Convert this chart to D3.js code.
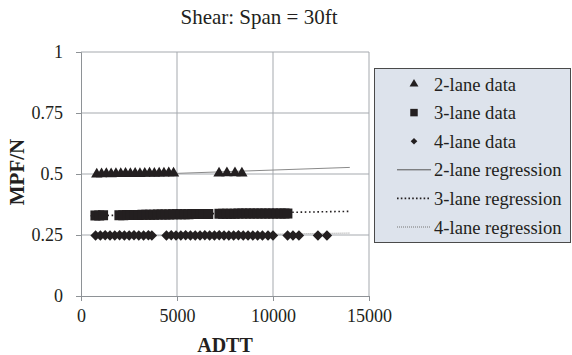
<!DOCTYPE html>
<html>
<head>
<meta charset="utf-8">
<script src="https://cdn.jsdelivr.net/npm/d3@7"></script>
<style>
  body { margin: 0; background: #fff; }
  svg { display: block; }
  svg text { font-family: "Liberation Serif", "Times New Roman", serif; fill: #231f20; }
</style>
</head>
<body>
<div id="chart"></div>
<script>
// --- data ---
const twoLaneX = [820, 1070, 1320, 1570, 1820, 2070, 2320, 2570, 2820, 3070, 3320, 3570, 3820, 4070, 4320, 4570, 4820, 7190, 7600, 8020, 8380];
const twoLaneY = [0.499, 0.500, 0.501, 0.500, 0.501, 0.501, 0.502, 0.501, 0.502, 0.501, 0.502, 0.503, 0.502, 0.503, 0.503, 0.504, 0.503, 0.503, 0.504, 0.504, 0.503];

const threeLaneX = [750, 950, 1150, 2000, 2200, 2400, 2600, 2800, 3000, 3200, 3400, 3600, 3800, 4000, 4200, 4400, 4600, 4800, 5000, 5200, 5400, 5600, 5800, 6000, 6200, 6400, 6630, 7210, 7400, 7600, 7800, 8000, 8200, 8400, 8600, 8800, 9000, 9200, 9400, 9600, 9800, 10000, 10200, 10400, 10600, 10750];
const threeLaneY = [0.330, 0.330, 0.331, 0.331, 0.331, 0.332, 0.332, 0.332, 0.332, 0.333, 0.333, 0.333, 0.333, 0.334, 0.334, 0.334, 0.334, 0.335, 0.335, 0.335, 0.335, 0.335, 0.336, 0.336, 0.336, 0.336, 0.336, 0.337, 0.337, 0.337, 0.337, 0.337, 0.338, 0.338, 0.338, 0.338, 0.338, 0.338, 0.338, 0.338, 0.338, 0.338, 0.338, 0.338, 0.338, 0.338];

const fourLaneX = [760, 1010, 1260, 1510, 1760, 2010, 2260, 2510, 2760, 3010, 3260, 3510, 3690, 4450, 4700, 4950, 5200, 5450, 5700, 5950, 6200, 6450, 6700, 6950, 7200, 7450, 7700, 7950, 8200, 8450, 8700, 8950, 9200, 9450, 9740, 10000, 10760, 11040, 11350, 12340, 12810];
const fourLaneY = [0.248, 0.248, 0.249, 0.248, 0.248, 0.249, 0.248, 0.248, 0.249, 0.248, 0.248, 0.249, 0.248, 0.248, 0.249, 0.248, 0.248, 0.249, 0.248, 0.248, 0.248, 0.249, 0.248, 0.248, 0.249, 0.248, 0.248, 0.248, 0.249, 0.248, 0.248, 0.248, 0.248, 0.248, 0.248, 0.248, 0.248, 0.248, 0.248, 0.248, 0.248];

// regression end points [ADTT, MPF/N]
const twoLaneReg = [[700, 0.491], [14000, 0.527]];
const threeLaneReg = [[500, 0.329], [14000, 0.347]];
const fourLaneReg = [[700, 0.243], [14000, 0.258]];

const xTicks = [0, 5000, 10000, 15000];
const yTicks = [0, 0.25, 0.5, 0.75, 1];
const yTickLabels = ["0", "0.25", "0.5", "0.75", "1"];
const legendLabels = ["2-lane data", "3-lane data", "4-lane data", "2-lane regression", "3-lane regression", "4-lane regression"];

const W = 572, H = 355;
const ink = "#231f20";
const gridColor = "#a5a9ae";
const svg = d3.select("#chart").append("svg").attr("width", W).attr("height", H);

const x = d3.scaleLinear().domain([0, 15000]).range([81, 369]);
const y = d3.scaleLinear().domain([0, 1]).range([296, 52]);

// gridlines
svg.append("g").selectAll("line").data(yTicks.slice(1)).join("line")
  .attr("x1", x(0)).attr("x2", x(15000))
  .attr("y1", d => y(d)).attr("y2", d => y(d))
  .attr("stroke", gridColor);
svg.append("g").selectAll("line").data(xTicks.slice(1)).join("line")
  .attr("x1", d => x(d)).attr("x2", d => x(d))
  .attr("y1", y(0)).attr("y2", y(1))
  .attr("stroke", gridColor);

// axes
const xAxis = svg.append("g").attr("transform", `translate(0,${y(0)})`)
  .call(d3.axisBottom(x).tickValues(xTicks).tickFormat(d3.format("d")).tickSize(5).tickPadding(8));
const yAxis = svg.append("g").attr("transform", `translate(${x(0)},0)`)
  .call(d3.axisLeft(y).tickValues(yTicks).tickFormat((d, i) => yTickLabels[i]).tickSize(5).tickPadding(13));
[xAxis, yAxis].forEach(g => {
  g.attr("font-size", 18);
  g.select(".domain").attr("stroke", "#8e9296");
  g.selectAll(".tick line").attr("stroke", "#8e9296");
});

// regression lines
const line = d3.line().x(d => x(d[0])).y(d => y(d[1]));
svg.append("path").datum(twoLaneReg).attr("d", line).attr("fill", "none")
  .attr("stroke", "#8a8a8a").attr("stroke-width", 1);
svg.append("path").datum(threeLaneReg).attr("d", line).attr("fill", "none")
  .attr("stroke", ink).attr("stroke-width", 1.6).attr("stroke-dasharray", "1.6,2.6");
svg.append("path").datum(fourLaneReg).attr("d", line).attr("fill", "none")
  .attr("stroke", "#8f8f8f").attr("stroke-width", 1).attr("stroke-dasharray", "1,1");

// markers
const tri = d3.symbol().type(d3.symbolTriangle).size(56)();
const sq = d3.symbol().type(d3.symbolSquare).size(100)();
const dia = d3.symbol().type(d3.symbolSquare).size(54)();

svg.append("g").selectAll("path").data(twoLaneX).join("path")
  .attr("d", tri).attr("fill", ink)
  .attr("transform", (d, i) => `translate(${x(d)},${y(twoLaneY[i])})`);
svg.append("g").selectAll("path").data(threeLaneX).join("path")
  .attr("d", sq).attr("fill", ink)
  .attr("transform", (d, i) => `translate(${x(d)},${y(threeLaneY[i])})`);
svg.append("g").selectAll("path").data(fourLaneX).join("path")
  .attr("d", dia).attr("fill", ink)
  .attr("transform", (d, i) => `translate(${x(d)},${y(fourLaneY[i])}) rotate(45)`);

// title and axis labels
svg.append("text").attr("x", 259).attr("y", 24).attr("text-anchor", "middle")
  .attr("font-size", 21).text("Shear: Span = 30ft");
svg.append("text").attr("x", 225).attr("y", 352).attr("text-anchor", "middle")
  .attr("font-size", 20).attr("font-weight", "bold").text("ADTT");
svg.append("text").attr("transform", "translate(24,172) rotate(-90)").attr("text-anchor", "middle")
  .attr("font-size", 21).attr("font-weight", "bold").text("MPF/N");

// legend
const lg = svg.append("g");
lg.append("rect").attr("x", 374.5).attr("y", 68.5).attr("width", 196).attr("height", 174)
  .attr("fill", "#dde3ec").attr("stroke", "#4a4a4a").attr("stroke-width", 1);
const rowY = i => 84 + i * 28.6;
lg.selectAll("text").data(legendLabels).join("text")
  .attr("x", 434).attr("y", (d, i) => rowY(i)).attr("dy", "0.35em")
  .attr("font-size", 18.6).text(d => d);
lg.append("path").attr("d", d3.symbol().type(d3.symbolTriangle).size(34)()).attr("fill", ink)
  .attr("transform", `translate(414,${rowY(0)})`);
lg.append("path").attr("d", d3.symbol().type(d3.symbolSquare).size(56)()).attr("fill", ink)
  .attr("transform", `translate(414,${rowY(1)})`);
lg.append("path").attr("d", d3.symbol().type(d3.symbolSquare).size(22)()).attr("fill", ink)
  .attr("transform", `translate(414,${rowY(2)}) rotate(45)`);
lg.append("line").attr("x1", 397).attr("x2", 431).attr("y1", rowY(3)).attr("y2", rowY(3))
  .attr("stroke", "#555").attr("stroke-width", 1);
lg.append("line").attr("x1", 397).attr("x2", 431).attr("y1", rowY(4)).attr("y2", rowY(4))
  .attr("stroke", ink).attr("stroke-width", 1.6).attr("stroke-dasharray", "1.6,2.2");
lg.append("line").attr("x1", 397).attr("x2", 431).attr("y1", rowY(5)).attr("y2", rowY(5))
  .attr("stroke", "#777").attr("stroke-width", 1).attr("stroke-dasharray", "1,1");
</script>
</body>
</html>
